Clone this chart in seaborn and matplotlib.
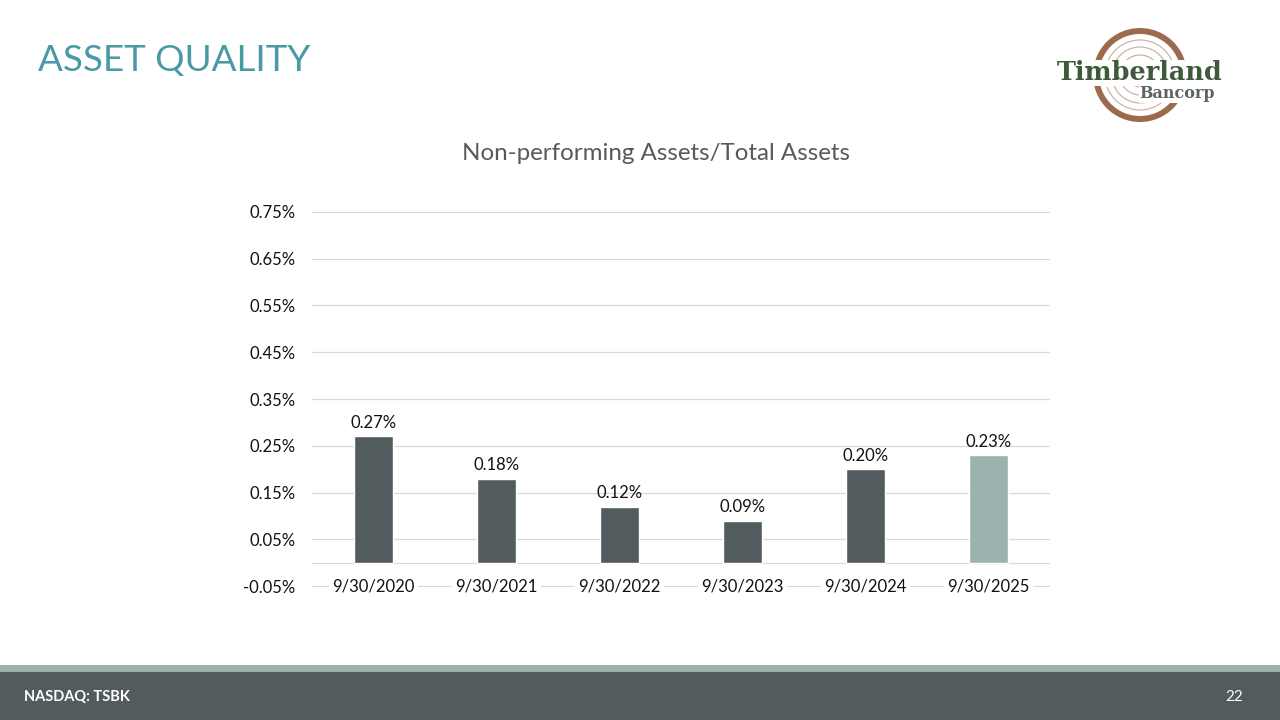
import matplotlib.pyplot as plt
import matplotlib.patches as mpatches
import pandas as pd
import seaborn as sns

# values
periods = ['9/30/2020', '9/30/2021', '9/30/2022', '9/30/2023', '9/30/2024', '9/30/2025']
npa_ratio = [0.27, 0.18, 0.12, 0.09, 0.20, 0.23]
y_ticks = [-0.05, 0.05, 0.15, 0.25, 0.35, 0.45, 0.55, 0.65, 0.75]

dark = '#525B5E'
sage = '#9BB3AE'
teal = '#4A9AA5'
bar_colors = [dark] * 5 + [sage]

df = pd.DataFrame({'period': periods, 'ratio': npa_ratio})

sns.set_theme(style='white')
plt.rcParams['font.family'] = ['Lato', 'DejaVu Sans']

fig = plt.figure(figsize=(12.8, 7.2), dpi=100)
fig.patch.set_facecolor('white')

# chart area in pixels: x 312..1050, y 212..586
ax = fig.add_axes([312 / 1280, 1 - 587 / 720, 738 / 1280, 376 / 720])
sns.barplot(data=df, x='period', y='ratio', hue='period', palette=bar_colors,
            width=0.31, legend=False, ax=ax, saturation=1, zorder=3)

ax.set_ylim(-0.052, 0.752)
ax.set_xlim(-0.5, len(periods) - 0.5)
ax.set_yticks(y_ticks)
ax.set_yticklabels([f'{t:.2f}%' for t in y_ticks], fontsize=12, color='#111111')
ax.yaxis.grid(True, color='#D9D9D9', linewidth=0.9)
ax.axhline(0, color='#D9D9D9', linewidth=0.9, zorder=1)
ax.yaxis.set_zorder(0.5)
ax.xaxis.set_zorder(5)
ax.set_xlabel('')
ax.set_ylabel('')
for s in ax.spines.values():
    s.set_visible(False)
ax.tick_params(axis='y', length=0, pad=12)
ax.tick_params(axis='x', length=0, pad=0)
for lbl in ax.get_xticklabels():
    lbl.set_fontsize(12)
    lbl.set_color('#111111')
    lbl.set_verticalalignment('center')
    lbl.set_bbox(dict(facecolor='white', edgecolor='none', pad=2))

for i, v in enumerate(npa_ratio):
    ax.text(i, v + 0.012, f'{v:.2f}%', ha='center', va='bottom',
            fontsize=12, color='#111111', zorder=4)

fig.text(656 / 1280, 1 - 153 / 720, 'Non-performing Assets/Total Assets',
         ha='center', va='center', fontsize=17.4, color='#595959')

# slide title
fig.text(38 / 1280, 1 - 61 / 720, 'ASSET QUALITY', ha='left', va='center',
         fontsize=26.5, color=teal)

# footer bands
fig.add_artist(mpatches.Rectangle((0, 0), 1, 48 / 720, transform=fig.transFigure,
                                  facecolor=dark, edgecolor='none'))
fig.add_artist(mpatches.Rectangle((0, 48 / 720), 1, 7 / 720, transform=fig.transFigure,
                                  facecolor=sage, edgecolor='none'))
fig.text(24 / 1280, 1 - 697 / 720, 'NASDAQ: TSBK', ha='left', va='center',
         fontsize=10.5, fontweight='bold', color='white')
fig.text(1243 / 1280, 1 - 697 / 720, '22', ha='right', va='center',
         fontsize=11, color='white')

# logo
lax = fig.add_axes([1055 / 1280, 1 - 125 / 720, 170 / 1280, 100 / 720])
lax.set_xlim(0, 170)
lax.set_ylim(0, 100)
lax.set_aspect('equal')
lax.axis('off')
brown = '#9C6B4E'
lax.add_patch(mpatches.Annulus((85, 50), 47, 6, facecolor=brown, edgecolor='none'))
for r in [12, 20, 28, 35]:
    lax.add_patch(mpatches.Arc((85, 50), 2 * r, 2 * r, theta1=20, theta2=160,
                               color=brown, linewidth=0.9, alpha=0.5))
    lax.add_patch(mpatches.Arc((85, 50), 2 * r, 2 * r, theta1=200, theta2=330,
                               color=brown, linewidth=0.9, alpha=0.5))
lax.text(85, 52, 'Timberland', ha='center', va='center', fontsize=18.4,
         fontweight='bold', family='DejaVu Serif', color='#3E5A3A',
         bbox=dict(facecolor='white', edgecolor='none', pad=0.5))
lax.text(122, 31, 'Bancorp', ha='center', va='center', fontsize=11.5,
         fontweight='bold', family='DejaVu Serif', color='#5A6460',
         bbox=dict(facecolor='white', edgecolor='none', pad=0.5))

fig.savefig('out.png', dpi=100, facecolor='white')
